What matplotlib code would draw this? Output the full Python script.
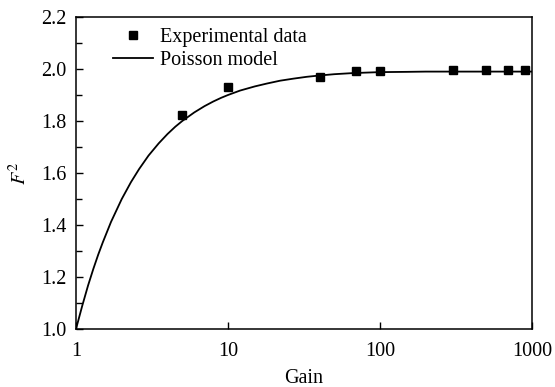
import numpy as np
import matplotlib
matplotlib.use('Agg')
import matplotlib.pyplot as plt
from matplotlib.ticker import MultipleLocator, FixedLocator, NullLocator, FormatStrFormatter

plt.rcParams['font.family'] = ['Liberation Serif', 'DejaVu Serif']
plt.rcParams['mathtext.fontset'] = 'stix'

# experimental points
exp_gain = [5, 10, 40, 70, 100, 300, 500, 700, 900]
exp_f2 = [1.823, 1.929, 1.969, 1.992, 1.992, 1.998, 1.998, 1.998, 1.998]

# poisson model curve
model_gain = [1, 1.1, 1.2, 1.3, 1.4, 1.5, 1.7, 2, 2.3, 2.6, 3, 3.5, 4, 4.5, 5, 6, 7, 8, 9, 10,
              12, 15, 18, 22, 27, 33, 40, 50, 65, 80, 100, 150, 200, 300, 500, 1000]
model_f2 = [1.0, 1.09, 1.167, 1.231, 1.286, 1.333, 1.412, 1.5, 1.565, 1.615, 1.667, 1.714, 1.75,
            1.778, 1.8, 1.833, 1.857, 1.875, 1.889, 1.9, 1.917, 1.933, 1.944, 1.955, 1.963, 1.97,
            1.975, 1.98, 1.984, 1.986, 1.988, 1.989, 1.99, 1.99, 1.99, 1.99]

xticks = [1, 10, 100, 1000]
xticklabels = ['1', '10', '100', '1000']

fig = plt.figure(figsize=(5.55, 3.87), dpi=100)
ax = fig.add_axes([76/555, 1 - 329/387, (532-76)/555, (329-17)/387])

ax.plot(model_gain, model_f2, color='black', lw=1.3, label='Poisson model', zorder=2)
ax.plot(exp_gain, exp_f2, ls='none', marker='s', ms=5.5, color='black', label='Experimental data', zorder=3)

ax.set_xscale('log')
ax.set_xlim(1, 1000)
ax.set_ylim(1.0, 2.2)
ax.xaxis.set_major_locator(FixedLocator(xticks))
ax.set_xticklabels(xticklabels)
ax.xaxis.set_minor_locator(NullLocator())
ax.yaxis.set_major_locator(MultipleLocator(0.2))
ax.yaxis.set_minor_locator(MultipleLocator(0.1))
ax.yaxis.set_major_formatter(FormatStrFormatter('%.1f'))

ax.tick_params(which='both', direction='in', labelsize=14.5, width=1.0, top=False, right=False)
ax.tick_params(which='major', length=5)
ax.tick_params(which='minor', length=4)
ax.tick_params(axis='x', pad=9)
ax.tick_params(axis='y', pad=7)
for s in ax.spines.values():
    s.set_linewidth(1.1)

ax.set_xlabel('Gain', fontsize=14.5, labelpad=6)
ax.set_ylabel('$F^2$', fontsize=14.5, labelpad=7)

h, l = ax.get_legend_handles_labels()
ax.legend(h[::-1], l[::-1], loc='upper left', bbox_to_anchor=(0.055, 1.005), frameon=False,
          fontsize=14.5, handlelength=2.0, handletextpad=0.35, labelspacing=0.2, borderaxespad=0.2)

plt.savefig('out.png', dpi=100)
